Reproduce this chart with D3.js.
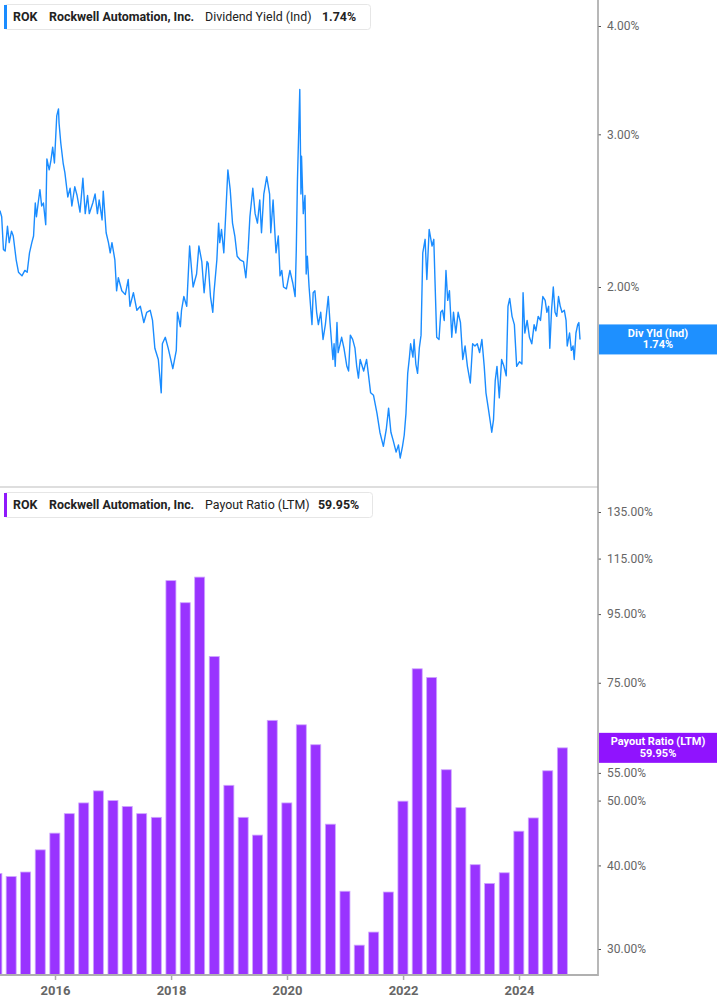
<!DOCTYPE html>
<html>
<head>
<meta charset="utf-8">
<script src="https://cdn.jsdelivr.net/npm/d3@7"></script>
<style>
  body { margin: 0; background: #fff; }
  svg text { font-family: Roboto, "Noto Sans", sans-serif; }
</style>
</head>
<body>
<div class="container"></div>
<script>
// ROK dividend yield (Ind), % (decimal year, value)
const yieldYears = [
  2015.05, 2015.08, 2015.11, 2015.14, 2015.18, 2015.21, 2015.25, 2015.28, 2015.33, 2015.37,
  2015.43, 2015.48, 2015.52, 2015.56, 2015.60, 2015.63, 2015.66, 2015.68, 2015.71, 2015.74,
  2015.77, 2015.80, 2015.84, 2015.86, 2015.90, 2015.93, 2015.96, 2015.99, 2016.03, 2016.06,
  2016.07, 2016.10, 2016.14, 2016.17, 2016.22, 2016.26, 2016.29, 2016.34, 2016.38, 2016.43,
  2016.48, 2016.52, 2016.56, 2016.59, 2016.65, 2016.69, 2016.73, 2016.76, 2016.81, 2016.83,
  2016.88, 2016.92, 2016.95, 2016.98, 2017.03, 2017.06, 2017.09, 2017.15, 2017.21, 2017.26,
  2017.29, 2017.35, 2017.41, 2017.47, 2017.53, 2017.58, 2017.64, 2017.68, 2017.72, 2017.78,
  2017.83, 2017.85, 2017.90, 2017.95, 2018.03, 2018.09, 2018.11, 2018.16, 2018.18, 2018.22,
  2018.27, 2018.32, 2018.36, 2018.38, 2018.44, 2018.48, 2018.53, 2018.57, 2018.62, 2018.64,
  2018.68, 2018.72, 2018.74, 2018.79, 2018.82, 2018.84, 2018.87, 2018.91, 2018.95, 2018.98,
  2019.02, 2019.06, 2019.10, 2019.14, 2019.19, 2019.25, 2019.29, 2019.33, 2019.36, 2019.41,
  2019.45, 2019.49, 2019.53, 2019.56, 2019.60, 2019.65, 2019.70, 2019.72, 2019.76, 2019.81,
  2019.85, 2019.88, 2019.91, 2019.94, 2019.99, 2020.05, 2020.10, 2020.14, 2020.16, 2020.18,
  2020.22, 2020.24, 2020.25, 2020.28, 2020.31, 2020.33, 2020.35, 2020.38, 2020.43, 2020.45,
  2020.48, 2020.51, 2020.54, 2020.58, 2020.62, 2020.66, 2020.71, 2020.74, 2020.79, 2020.81,
  2020.83, 2020.86, 2020.88, 2020.94, 2020.98, 2021.03, 2021.06, 2021.09, 2021.13, 2021.17,
  2021.20, 2021.23, 2021.26, 2021.32, 2021.37, 2021.40, 2021.44, 2021.49, 2021.55, 2021.60,
  2021.66, 2021.71, 2021.75, 2021.79, 2021.83, 2021.88, 2021.92, 2021.95, 2021.99, 2022.02,
  2022.05, 2022.08, 2022.11, 2022.13, 2022.17, 2022.19, 2022.22, 2022.25, 2022.28, 2022.31,
  2022.34, 2022.38, 2022.41, 2022.45, 2022.50, 2022.53, 2022.55, 2022.58, 2022.62, 2022.65,
  2022.68, 2022.71, 2022.74, 2022.77, 2022.80, 2022.84, 2022.87, 2022.91, 2022.95, 2022.99,
  2023.03, 2023.07, 2023.11, 2023.16, 2023.20, 2023.24, 2023.28, 2023.32, 2023.36, 2023.40,
  2023.43, 2023.47, 2023.51, 2023.53, 2023.56, 2023.59, 2023.62, 2023.66, 2023.70, 2023.74,
  2023.78, 2023.81, 2023.84, 2023.88, 2023.92, 2023.96, 2024.01, 2024.05, 2024.07, 2024.10,
  2024.14, 2024.18, 2024.22, 2024.26, 2024.29, 2024.33, 2024.37, 2024.41, 2024.45, 2024.48,
  2024.51, 2024.53, 2024.56, 2024.59, 2024.62, 2024.65, 2024.68, 2024.71, 2024.74, 2024.78,
  2024.81, 2024.83, 2024.87, 2024.90, 2024.93, 2024.95, 2024.98, 2025.01, 2025.03, 2025.05
];
const yieldValues = [
  2.45, 2.41, 2.21, 2.20, 2.35, 2.25, 2.32, 2.29, 2.15, 2.08,
  2.06, 2.09, 2.08, 2.19, 2.25, 2.29, 2.50, 2.41, 2.50, 2.59,
  2.48, 2.50, 2.36, 2.81, 2.73, 2.80, 2.90, 2.78, 3.15, 3.21,
  3.09, 2.93, 2.78, 2.71, 2.54, 2.60, 2.48, 2.61, 2.55, 2.44,
  2.67, 2.43, 2.55, 2.43, 2.50, 2.56, 2.43, 2.52, 2.39, 2.58,
  2.31, 2.25, 2.19, 2.25, 2.15, 1.98, 2.05, 1.98, 1.96, 2.04,
  1.90, 1.97, 1.88, 1.90, 1.82, 1.87, 1.88, 1.83, 1.70, 1.65,
  1.51, 1.72, 1.75, 1.70, 1.61, 1.69, 1.87, 1.80, 1.88, 1.95,
  1.90, 2.23, 2.07, 2.00, 2.07, 2.23, 2.14, 1.97, 2.14, 2.13,
  1.95, 1.87, 1.97, 2.15, 2.37, 2.25, 2.33, 2.19, 2.48, 2.73,
  2.59, 2.37, 2.29, 2.17, 2.15, 2.14, 2.05, 2.21, 2.41, 2.60,
  2.43, 2.37, 2.52, 2.31, 2.56, 2.68, 2.56, 2.31, 2.52, 2.19,
  2.29, 2.06, 2.09, 2.00, 1.99, 2.09, 2.02, 1.95, 2.21, 2.66,
  3.38, 2.56, 2.83, 2.43, 2.55, 2.07, 2.17, 2.00, 1.81, 1.97,
  1.98, 1.87, 1.81, 1.87, 1.74, 1.81, 1.95, 1.82, 1.65, 1.72,
  1.62, 1.82, 1.68, 1.75, 1.70, 1.62, 1.60, 1.76, 1.74, 1.70,
  1.62, 1.57, 1.65, 1.60, 1.65, 1.59, 1.51, 1.50, 1.43, 1.36,
  1.31, 1.37, 1.45, 1.36, 1.33, 1.29, 1.315, 1.27, 1.31, 1.35,
  1.43, 1.59, 1.66, 1.72, 1.66, 1.74, 1.63, 1.59, 1.70, 1.76,
  2.19, 2.27, 2.04, 2.33, 2.23, 2.27, 2.04, 1.75, 1.74, 1.87,
  1.88, 1.83, 2.09, 1.93, 1.98, 1.75, 1.87, 1.77, 1.87, 1.82,
  1.65, 1.71, 1.62, 1.55, 1.72, 1.71, 1.72, 1.68, 1.74, 1.62,
  1.51, 1.45, 1.39, 1.36, 1.405, 1.56, 1.62, 1.49, 1.65, 1.62,
  1.58, 1.90, 1.94, 1.85, 1.81, 1.62, 1.64, 1.63, 1.97, 1.77,
  1.83, 1.75, 1.72, 1.81, 1.78, 1.85, 1.83, 1.95, 1.93, 1.87,
  1.90, 1.70, 1.88, 2.00, 1.87, 1.85, 1.95, 1.90, 1.87, 1.88,
  1.83, 1.71, 1.77, 1.69, 1.71, 1.65, 1.77, 1.81, 1.82, 1.74
];

// payout ratio (LTM), % -- one bar per fiscal quarter end
const quarterEnds = [
  "2014-12-31", "2015-03-31", "2015-06-30", "2015-09-30", "2015-12-31",
  "2016-03-31", "2016-06-30", "2016-09-30", "2016-12-31",
  "2017-03-31", "2017-06-30", "2017-09-30", "2017-12-31",
  "2018-03-31", "2018-06-30", "2018-09-30", "2018-12-31",
  "2019-03-31", "2019-06-30", "2019-09-30", "2019-12-31",
  "2020-03-31", "2020-06-30", "2020-09-30", "2020-12-31",
  "2021-03-31", "2021-06-30", "2021-09-30", "2021-12-31",
  "2022-03-31", "2022-06-30", "2022-09-30", "2022-12-31",
  "2023-03-31", "2023-06-30", "2023-09-30", "2023-12-31",
  "2024-03-31", "2024-06-30", "2024-09-30"
];
const payoutValues = [
  38.9, 38.5, 39.1, 42.2, 44.7,
  47.8, 49.6, 51.7, 50.0,
  49.0, 47.8, 47.2, 106.6,
  98.8, 107.9, 82.1, 52.7,
  47.2, 44.4, 65.9, 49.6,
  64.9, 60.6, 46.1, 36.6,
  30.4, 31.8, 36.5, 49.9,
  78.7, 76.4, 55.6, 48.8,
  40.1, 37.6, 39.0, 45.0,
  47.1, 55.4, 59.95
];

const yieldTicks = [2, 3, 4];
const payoutTicks = [30, 40, 50, 55, 75, 95, 115, 135];
const yearTicks = [2016, 2018, 2020, 2022, 2024];

const lastYield = 1.74;
const lastPayout = 59.95;

const w = 717, h = 1005;
const axisX = 598;          // right value axis
const splitY = 487;         // line between the two panes
const baseY = 975;          // time axis

const blue = "#1a8cff";
const purple = "#9933ff";

function decYear(t) {
  const y = Math.floor(t);
  const s = new Date(y, 0, 1), e = new Date(y + 1, 0, 1);
  return new Date(+s + (t - y) * (e - s));
}
const parse = d3.timeParse("%Y-%m-%d");

const yieldData = yieldYears.map((t, i) => ({date: decYear(t), v: yieldValues[i]}));
const payoutData = quarterEnds.map((q, i) => ({date: parse(q), v: payoutValues[i]}));

const xScale = d3.scaleTime()
  .domain([new Date(2016, 0, 1), new Date(2024, 0, 1)])
  .range([55, 519]);
const yTop = d3.scaleLog().domain([2, 4]).range([287, 26]);
const yBot = d3.scaleLog().domain([30, 135]).range([949, 512]);

const svg = d3.select(".container").append("svg")
  .attr("width", w).attr("height", h);

const defs = svg.append("defs");
defs.append("clipPath").attr("id", "clipTop")
  .append("rect").attr("x", 0).attr("y", 0).attr("width", axisX).attr("height", splitY);
defs.append("clipPath").attr("id", "clipBot")
  .append("rect").attr("x", 0).attr("y", splitY).attr("width", axisX).attr("height", baseY - splitY);

// ---- top pane: dividend yield line
svg.append("g").attr("clip-path", "url(#clipTop)")
  .append("path")
  .datum(yieldData)
  .attr("fill", "none")
  .attr("stroke", blue)
  .attr("stroke-width", 1.4)
  .attr("stroke-linejoin", "round")
  .attr("d", d3.line().x(d => xScale(d.date)).y(d => yTop(d.v)));

// ---- bottom pane: payout ratio bars
svg.append("g").attr("clip-path", "url(#clipBot)")
  .selectAll("rect")
  .data(payoutData)
  .enter()
  .append("rect")
  .attr("x", d => xScale(d.date) - 5)
  .attr("y", d => yBot(d.v))
  .attr("width", 10)
  .attr("height", d => baseY - yBot(d.v))
  .attr("fill", purple)
  .attr("stroke", "#cfa6ff")
  .attr("stroke-width", 0.8);

// pane divider
svg.append("line")
  .attr("x1", 0).attr("x2", axisX)
  .attr("y1", splitY).attr("y2", splitY)
  .attr("stroke", "#dedede").attr("stroke-width", 2);

// right value axes
function styleAxis(g) {
  g.select(".domain").remove();
  g.selectAll(".tick line").attr("stroke", "#555");
  g.selectAll(".tick text")
    .attr("fill", "#666")
    .style("font-size", "12px");
}
svg.append("g")
  .attr("transform", "translate(" + axisX + ",0)")
  .call(d3.axisRight(yTop).tickValues(yieldTicks).tickFormat(d => d.toFixed(2) + "%").tickSize(3).tickPadding(6))
  .call(styleAxis);
svg.append("g")
  .attr("transform", "translate(" + axisX + ",0)")
  .call(d3.axisRight(yBot).tickValues(payoutTicks).tickFormat(d => d.toFixed(2) + "%").tickSize(3).tickPadding(6))
  .call(styleAxis);

svg.append("line")
  .attr("x1", axisX).attr("x2", axisX)
  .attr("y1", 0).attr("y2", baseY + 1)
  .attr("stroke", "#a0a0a0").attr("stroke-width", 1.5);

// time axis
const xAxis = svg.append("g")
  .attr("transform", "translate(0," + baseY + ")")
  .call(d3.axisBottom(xScale)
    .tickValues(yearTicks.map(y => new Date(y, 0, 1)))
    .tickFormat(d3.timeFormat("%Y"))
    .tickSize(5).tickPadding(6));
xAxis.select(".domain").remove();
xAxis.selectAll(".tick line").attr("stroke", "#aaa").attr("stroke-width", 1.5);
xAxis.selectAll(".tick text")
  .attr("fill", "#666")
  .style("font-size", "13px")
  .style("font-weight", "bold");
svg.append("line")
  .attr("x1", 0).attr("x2", axisX)
  .attr("y1", baseY).attr("y2", baseY)
  .attr("stroke", "#b0b0b0").attr("stroke-width", 2);

// last-value labels on the axis
function valueTag(y, color, line1, line2) {
  const g = svg.append("g");
  g.append("rect")
    .attr("x", axisX + 1).attr("y", y - 15)
    .attr("width", w - axisX - 1).attr("height", 30)
    .attr("fill", color);
  g.append("text")
    .attr("x", 658).attr("y", y - 2.5)
    .attr("text-anchor", "middle").attr("fill", "#fff")
    .style("font-size", "11px").style("font-weight", "bold")
    .text(line1);
  g.append("text")
    .attr("x", 658).attr("y", y + 9)
    .attr("text-anchor", "middle").attr("fill", "#fff")
    .style("font-size", "11px").style("font-weight", "bold")
    .text(line2);
}
valueTag(yTop(lastYield), "#1e90ff", "Div Yld (Ind)", lastYield.toFixed(2) + "%");
valueTag(yBot(lastPayout), "#9013fe", "Payout Ratio (LTM)", lastPayout.toFixed(2) + "%");

// legend headers
function header(y, color, metric, value, valueX, boxW) {
  const g = svg.append("g");
  g.append("rect")
    .attr("x", 4.5).attr("y", y + 0.5)
    .attr("width", boxW).attr("height", 25)
    .attr("rx", 3)
    .attr("fill", "#fff").attr("stroke", "#e6e6e6");
  g.append("rect")
    .attr("x", 4).attr("y", y + 1)
    .attr("width", 3).attr("height", 24)
    .attr("fill", color);
  const t = g.append("text").attr("y", y + 17).attr("fill", "#222").style("font-size", "12.4px");
  t.append("tspan").attr("x", 13).style("font-weight", "bold").text("ROK");
  t.append("tspan").attr("x", 49).style("font-weight", "bold").text("Rockwell Automation, Inc.");
  t.append("tspan").attr("x", 205).text(metric);
  t.append("tspan").attr("x", valueX).style("font-weight", "bold").text(value);
}
header(4, blue, "Dividend Yield (Ind)", lastYield.toFixed(2) + "%", 322, 366);
header(492, "#8f19fb", "Payout Ratio (LTM)", lastPayout.toFixed(2) + "%", 318, 368);
</script>
</body>
</html>
